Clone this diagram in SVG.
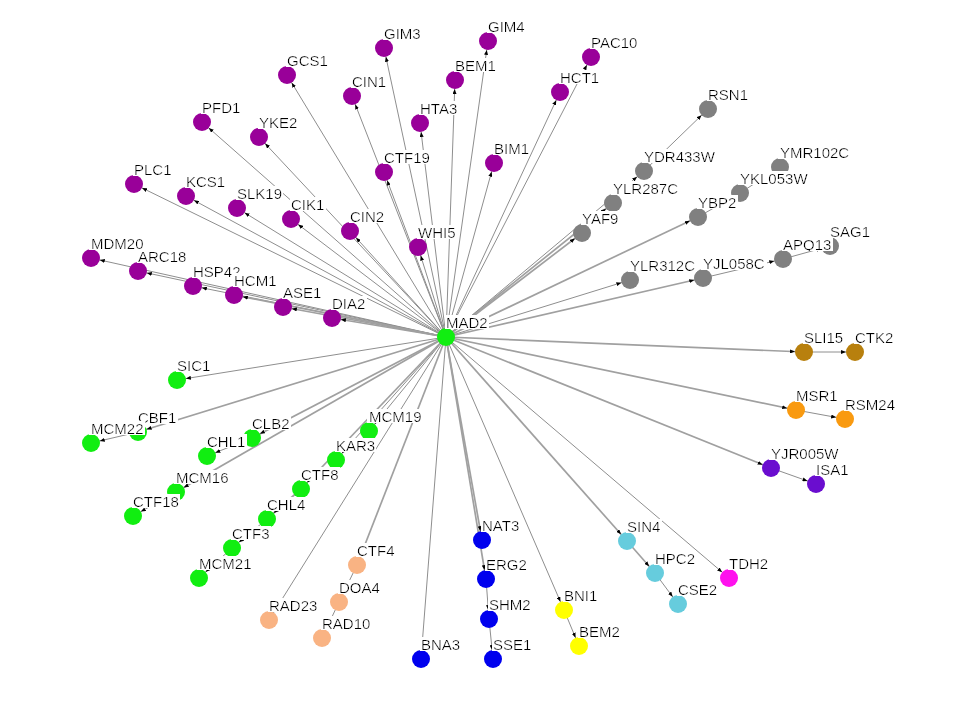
<svg xmlns="http://www.w3.org/2000/svg" width="960" height="720" viewBox="0 0 960 720">
<style>
.e{stroke:#8e8e8e;stroke-width:1;fill:none;marker-end:url(#arr)}
.m{stroke:#a0a0a0;stroke-width:1.7;fill:none;marker-end:url(#arr)}
text{font-family:"Liberation Sans",Arial,sans-serif;font-size:15px;fill:#000;filter:url(#bg)}
.pu{fill:#990099}.gy{fill:#808080}.gr{fill:#11ee11}.br{fill:#b8800e}.or{fill:#f99a10}
.vi{fill:#6a0dcf}.cy{fill:#66ccdd}.mg{fill:#ff11ee}.ye{fill:#ffff00}.bl{fill:#0000ee}.pe{fill:#f9b383}
</style>
<defs>
<marker id="arr" markerUnits="userSpaceOnUse" markerWidth="6" markerHeight="4" refX="14" refY="2" orient="auto">
<path d="M0,0 L5,2 L0,4 z" fill="#000"/>
</marker>
<filter id="bg" x="-0.02" y="0.125" width="1.04" height="0.76">
<feFlood flood-color="#ffffff"/>
<feComposite in="SourceGraphic"/>
</filter>
</defs>
<rect width="960" height="720" fill="#fff"/>
<g id="edges">
<line class="e" x1="446" y1="337" x2="384" y2="48"/>
<line class="e" x1="446" y1="337" x2="287" y2="75"/>
<line class="e" x1="446" y1="337" x2="352" y2="96"/>
<line class="e" x1="446" y1="337" x2="202" y2="122"/>
<line class="e" x1="446" y1="337" x2="259" y2="137"/>
<line class="e" x1="446" y1="337" x2="420" y2="123"/>
<line class="e" x1="446" y1="337" x2="384" y2="172"/>
<line class="e" x1="446" y1="337" x2="134" y2="184"/>
<line class="e" x1="446" y1="337" x2="186" y2="196"/>
<line class="e" x1="446" y1="337" x2="237" y2="208"/>
<line class="e" x1="446" y1="337" x2="291" y2="219"/>
<line class="e" x1="446" y1="337" x2="350" y2="231"/>
<line class="e" x1="446" y1="337" x2="418" y2="247"/>
<line class="e" x1="446" y1="337" x2="91" y2="258"/>
<line class="e" x1="446" y1="337" x2="138" y2="271"/>
<line class="e" x1="446" y1="337" x2="193" y2="286"/>
<line class="m" x1="446" y1="337" x2="234" y2="295"/>
<line class="m" x1="446" y1="337" x2="283" y2="307"/>
<line class="m" x1="446" y1="337" x2="332" y2="318"/>
<line class="e" x1="446" y1="337" x2="488" y2="41"/>
<line class="e" x1="446" y1="337" x2="455" y2="80"/>
<line class="e" x1="446" y1="337" x2="591" y2="57"/>
<line class="e" x1="446" y1="337" x2="560" y2="92"/>
<line class="e" x1="446" y1="337" x2="494" y2="163"/>
<line class="m" x1="446" y1="337" x2="582" y2="233"/>
<line class="m" x1="446" y1="337" x2="613" y2="203"/>
<line class="e" x1="446" y1="337" x2="644" y2="171"/>
<line class="e" x1="644" y1="171" x2="708" y2="109"/>
<line class="m" x1="446" y1="337" x2="698" y2="217"/>
<line class="e" x1="698" y1="217" x2="740" y2="193"/>
<line class="e" x1="740" y1="193" x2="780" y2="167"/>
<line class="e" x1="446" y1="337" x2="630" y2="280"/>
<line class="m" x1="446" y1="337" x2="703" y2="278"/>
<line class="e" x1="703" y1="278" x2="783" y2="259"/>
<line class="e" x1="783" y1="259" x2="830" y2="246"/>
<line class="m" x1="446" y1="337" x2="804" y2="352"/>
<line class="e" x1="804" y1="352" x2="855" y2="352"/>
<line class="m" x1="446" y1="337" x2="796" y2="410"/>
<line class="e" x1="796" y1="410" x2="845" y2="419"/>
<line class="m" x1="446" y1="337" x2="771" y2="468"/>
<line class="e" x1="771" y1="468" x2="816" y2="484"/>
<line class="e" x1="446" y1="337" x2="729" y2="578"/>
<line class="m" x1="446" y1="337" x2="627" y2="541"/>
<line class="m" x1="627" y1="541" x2="655" y2="573"/>
<line class="e" x1="655" y1="573" x2="678" y2="604"/>
<line class="e" x1="446" y1="337" x2="564" y2="610"/>
<line class="e" x1="564" y1="610" x2="579" y2="646"/>
<line class="m" x1="446" y1="337" x2="482" y2="540"/>
<line class="m" x1="446" y1="337" x2="486" y2="579"/>
<line class="e" x1="486" y1="579" x2="489" y2="619"/>
<line class="e" x1="489" y1="619" x2="493" y2="659"/>
<line class="e" x1="446" y1="337" x2="421" y2="659"/>
<line class="e" x1="446" y1="337" x2="177" y2="380"/>
<line class="m" x1="446" y1="337" x2="138" y2="432"/>
<line class="e" x1="138" y1="432" x2="91" y2="443"/>
<line class="m" x1="446" y1="337" x2="252" y2="438"/>
<line class="e" x1="252" y1="438" x2="207" y2="456"/>
<line class="m" x1="446" y1="337" x2="176" y2="492"/>
<line class="e" x1="176" y1="492" x2="133" y2="516"/>
<line class="e" x1="446" y1="337" x2="369" y2="431"/>
<line class="e" x1="446" y1="337" x2="336" y2="460"/>
<line class="m" x1="446" y1="337" x2="301" y2="489"/>
<line class="m" x1="301" y1="489" x2="267" y2="519"/>
<line class="e" x1="267" y1="519" x2="232" y2="548"/>
<line class="e" x1="232" y1="548" x2="199" y2="578"/>
<line class="e" x1="446" y1="337" x2="269" y2="620"/>
<line class="m" x1="446" y1="337" x2="357" y2="565"/>
<line class="e" x1="357" y1="565" x2="339" y2="602"/>
<line class="e" x1="339" y1="602" x2="322" y2="638"/>
</g>
<g id="nodes">
<g id="n-GIM3"><circle class="pu" cx="384" cy="48" r="9"/><text x="384" y="38.5">GIM3</text></g>
<g id="n-GCS1"><circle class="pu" cx="287" cy="75" r="9"/><text x="287" y="65.5">GCS1</text></g>
<g id="n-CIN1"><circle class="pu" cx="352" cy="96" r="9"/><text x="352" y="86.5">CIN1</text></g>
<g id="n-PFD1"><circle class="pu" cx="202" cy="122" r="9"/><text x="202" y="112.5">PFD1</text></g>
<g id="n-YKE2"><circle class="pu" cx="259" cy="137" r="9"/><text x="259" y="127.5">YKE2</text></g>
<g id="n-HTA3"><circle class="pu" cx="420" cy="123" r="9"/><text x="420" y="113.5">HTA3</text></g>
<g id="n-CTF19"><circle class="pu" cx="384" cy="172" r="9"/><text x="384" y="162.5">CTF19</text></g>
<g id="n-PLC1"><circle class="pu" cx="134" cy="184" r="9"/><text x="134" y="174.5">PLC1</text></g>
<g id="n-KCS1"><circle class="pu" cx="186" cy="196" r="9"/><text x="186" y="186.5">KCS1</text></g>
<g id="n-SLK19"><circle class="pu" cx="237" cy="208" r="9"/><text x="237" y="198.5">SLK19</text></g>
<g id="n-CIK1"><circle class="pu" cx="291" cy="219" r="9"/><text x="291" y="209.5">CIK1</text></g>
<g id="n-CIN2"><circle class="pu" cx="350" cy="231" r="9"/><text x="350" y="221.5">CIN2</text></g>
<g id="n-WHI5"><circle class="pu" cx="418" cy="247" r="9"/><text x="418" y="237.5">WHI5</text></g>
<g id="n-MDM20"><circle class="pu" cx="91" cy="258" r="9"/><text x="91" y="248.5">MDM20</text></g>
<g id="n-ARC18"><circle class="pu" cx="138" cy="271" r="9"/><text x="138" y="261.5">ARC18</text></g>
<g id="n-HSP42"><circle class="pu" cx="193" cy="286" r="9"/><text x="193" y="276.5">HSP42</text></g>
<g id="n-HCM1"><circle class="pu" cx="234" cy="295" r="9"/><text x="234" y="285.5">HCM1</text></g>
<g id="n-ASE1"><circle class="pu" cx="283" cy="307" r="9"/><text x="283" y="297.5">ASE1</text></g>
<g id="n-DIA2"><circle class="pu" cx="332" cy="318" r="9"/><text x="332" y="308.5">DIA2</text></g>
<g id="n-GIM4"><circle class="pu" cx="488" cy="41" r="9"/><text x="488" y="31.5">GIM4</text></g>
<g id="n-BEM1"><circle class="pu" cx="455" cy="80" r="9"/><text x="455" y="70.5">BEM1</text></g>
<g id="n-PAC10"><circle class="pu" cx="591" cy="57" r="9"/><text x="591" y="47.5">PAC10</text></g>
<g id="n-HCT1"><circle class="pu" cx="560" cy="92" r="9"/><text x="560" y="82.5">HCT1</text></g>
<g id="n-BIM1"><circle class="pu" cx="494" cy="163" r="9"/><text x="494" y="153.5">BIM1</text></g>
<g id="n-RSN1"><circle class="gy" cx="708" cy="109" r="9"/><text x="708" y="99.5">RSN1</text></g>
<g id="n-YDR433W"><circle class="gy" cx="644" cy="171" r="9"/><text x="644" y="161.5">YDR433W</text></g>
<g id="n-YLR287C"><circle class="gy" cx="613" cy="203" r="9"/><text x="613" y="193.5">YLR287C</text></g>
<g id="n-YAF9"><circle class="gy" cx="582" cy="233" r="9"/><text x="582" y="223.5">YAF9</text></g>
<g id="n-YMR102C"><circle class="gy" cx="780" cy="167" r="9"/><text x="780" y="157.5">YMR102C</text></g>
<g id="n-YKL053W"><circle class="gy" cx="740" cy="193" r="9"/><text x="740" y="183.5">YKL053W</text></g>
<g id="n-YBP2"><circle class="gy" cx="698" cy="217" r="9"/><text x="698" y="207.5">YBP2</text></g>
<g id="n-SAG1"><circle class="gy" cx="830" cy="246" r="9"/><text x="830" y="236.5">SAG1</text></g>
<g id="n-APQ13"><circle class="gy" cx="783" cy="259" r="9"/><text x="783" y="249.5">APQ13</text></g>
<g id="n-YJL058C"><circle class="gy" cx="703" cy="278" r="9"/><text x="703" y="268.5">YJL058C</text></g>
<g id="n-YLR312C"><circle class="gy" cx="630" cy="280" r="9"/><text x="630" y="270.5">YLR312C</text></g>
<g id="n-SLI15"><circle class="br" cx="804" cy="352" r="9"/><text x="804" y="342.5">SLI15</text></g>
<g id="n-CTK2"><circle class="br" cx="855" cy="352" r="9"/><text x="855" y="342.5">CTK2</text></g>
<g id="n-MSR1"><circle class="or" cx="796" cy="410" r="9"/><text x="796" y="400.5">MSR1</text></g>
<g id="n-RSM24"><circle class="or" cx="845" cy="419" r="9"/><text x="845" y="409.5">RSM24</text></g>
<g id="n-YJR005W"><circle class="vi" cx="771" cy="468" r="9"/><text x="771" y="458.5">YJR005W</text></g>
<g id="n-ISA1"><circle class="vi" cx="816" cy="484" r="9"/><text x="816" y="474.5">ISA1</text></g>
<g id="n-SIN4"><circle class="cy" cx="627" cy="541" r="9"/><text x="627" y="531.5">SIN4</text></g>
<g id="n-HPC2"><circle class="cy" cx="655" cy="573" r="9"/><text x="655" y="563.5">HPC2</text></g>
<g id="n-CSE2"><circle class="cy" cx="678" cy="604" r="9"/><text x="678" y="594.5">CSE2</text></g>
<g id="n-TDH2"><circle class="mg" cx="729" cy="578" r="9"/><text x="729" y="568.5">TDH2</text></g>
<g id="n-BNI1"><circle class="ye" cx="564" cy="610" r="9"/><text x="564" y="600.5">BNI1</text></g>
<g id="n-BEM2"><circle class="ye" cx="579" cy="646" r="9"/><text x="579" y="636.5">BEM2</text></g>
<g id="n-NAT3"><circle class="bl" cx="482" cy="540" r="9"/><text x="482" y="530.5">NAT3</text></g>
<g id="n-ERG2"><circle class="bl" cx="486" cy="579" r="9"/><text x="486" y="569.5">ERG2</text></g>
<g id="n-SHM2"><circle class="bl" cx="489" cy="619" r="9"/><text x="489" y="609.5">SHM2</text></g>
<g id="n-SSE1"><circle class="bl" cx="493" cy="659" r="9"/><text x="493" y="649.5">SSE1</text></g>
<g id="n-BNA3"><circle class="bl" cx="421" cy="659" r="9"/><text x="421" y="649.5">BNA3</text></g>
<g id="n-SIC1"><circle class="gr" cx="177" cy="380" r="9"/><text x="177" y="370.5">SIC1</text></g>
<g id="n-CBF1"><circle class="gr" cx="138" cy="432" r="9"/><text x="138" y="422.5">CBF1</text></g>
<g id="n-MCM22"><circle class="gr" cx="91" cy="443" r="9"/><text x="91" y="433.5">MCM22</text></g>
<g id="n-CLB2"><circle class="gr" cx="252" cy="438" r="9"/><text x="252" y="428.5">CLB2</text></g>
<g id="n-CHL1"><circle class="gr" cx="207" cy="456" r="9"/><text x="207" y="446.5">CHL1</text></g>
<g id="n-MCM16"><circle class="gr" cx="176" cy="492" r="9"/><text x="176" y="482.5">MCM16</text></g>
<g id="n-CTF18"><circle class="gr" cx="133" cy="516" r="9"/><text x="133" y="506.5">CTF18</text></g>
<g id="n-MCM19"><circle class="gr" cx="369" cy="431" r="9"/><text x="369" y="421.5">MCM19</text></g>
<g id="n-KAR3"><circle class="gr" cx="336" cy="460" r="9"/><text x="336" y="450.5">KAR3</text></g>
<g id="n-CTF8"><circle class="gr" cx="301" cy="489" r="9"/><text x="301" y="479.5">CTF8</text></g>
<g id="n-CHL4"><circle class="gr" cx="267" cy="519" r="9"/><text x="267" y="509.5">CHL4</text></g>
<g id="n-CTF3"><circle class="gr" cx="232" cy="548" r="9"/><text x="232" y="538.5">CTF3</text></g>
<g id="n-MCM21"><circle class="gr" cx="199" cy="578" r="9"/><text x="199" y="568.5">MCM21</text></g>
<g id="n-CTF4"><circle class="pe" cx="357" cy="565" r="9"/><text x="357" y="555.5">CTF4</text></g>
<g id="n-DOA4"><circle class="pe" cx="339" cy="602" r="9"/><text x="339" y="592.5">DOA4</text></g>
<g id="n-RAD23"><circle class="pe" cx="269" cy="620" r="9"/><text x="269" y="610.5">RAD23</text></g>
<g id="n-RAD10"><circle class="pe" cx="322" cy="638" r="9"/><text x="322" y="628.5">RAD10</text></g>
<g id="n-MAD2"><circle class="gr" cx="446" cy="337" r="9"/><text x="446" y="327.5">MAD2</text></g>
</g>
</svg>
